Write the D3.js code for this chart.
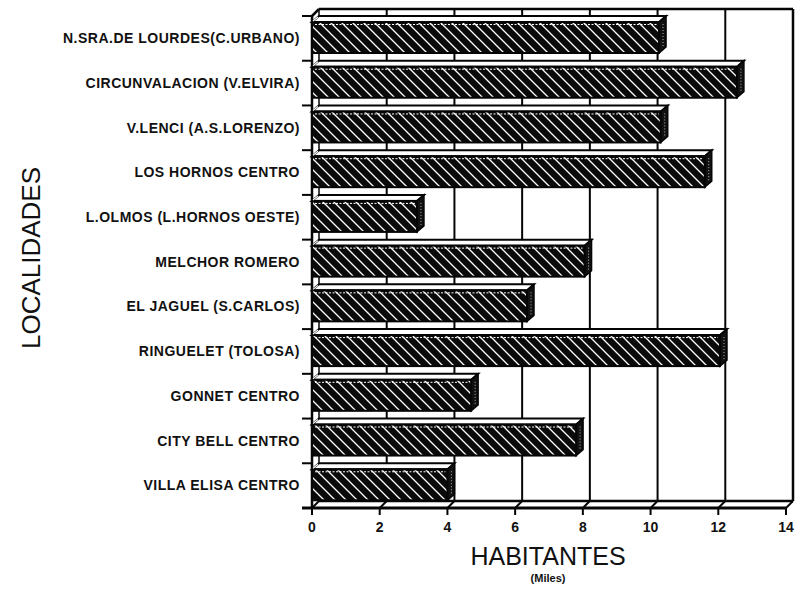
<!DOCTYPE html>
<html><head><meta charset="utf-8">
<script src="https://cdn.jsdelivr.net/npm/d3@7"></script>
<style>
html,body{margin:0;padding:0;background:#fff;}
svg{display:block;font-family:"Liberation Sans",Arial,sans-serif;}
</style></head>
<body>
<svg id="chart" width="795" height="589"></svg>
<script>
const categories = ["N.SRA.DE LOURDES(C.URBANO)","CIRCUNVALACION (V.ELVIRA)","V.LENCI (A.S.LORENZO)","LOS HORNOS CENTRO","L.OLMOS (L.HORNOS OESTE)","MELCHOR ROMERO","EL JAGUEL (S.CARLOS)","RINGUELET (TOLOSA)","GONNET CENTRO","CITY BELL CENTRO","VILLA ELISA CENTRO"];
const values = [10.25,12.55,10.3,11.6,3.1,8.05,6.35,12.05,4.7,7.8,4.0];
const xTicks = [0,2,4,6,8,10,12,14];
const xTitle = "HABITANTES";
const xSubtitle = "(Miles)";
const yTitle = "LOCALIDADES";

(function(){
const svg = d3.select("#chart");
const x = d3.scaleLinear().domain([0,14]).range([312,786]);
const y = d3.scaleBand().domain(categories).range([16,508]);
const wdx = 7, wdy = 7;   // wall depth
const bdx = 7, bdy = 6;   // bar depth
const pTop = 16, pBottom = 508;

const defs = svg.append("defs");
const pat = defs.append("pattern").attr("id","hatch").attr("patternUnits","userSpaceOnUse")
  .attr("width",11).attr("height",11);
pat.append("rect").attr("width",11).attr("height",11).attr("fill","#0a0a0a");
pat.append("path").attr("d","M-1,-1 L12,12 M-6,5 L6,17 M5,-6 L17,6")
  .attr("stroke","#fff").attr("stroke-width",1.3);

const ink = "#050505";
const g = svg.append("g");
xTicks.slice(1).forEach(v=>{
  g.append("line").attr("x1",x(v)+wdx).attr("x2",x(v)+wdx).attr("y1",pTop-wdy).attr("y2",pBottom-wdy)
   .attr("stroke",ink).attr("stroke-width",v===14?2.5:2);
});
g.append("line").attr("x1",x(0)+wdx).attr("x2",x(14)+wdx).attr("y1",pTop-wdy).attr("y2",pTop-wdy)
 .attr("stroke",ink).attr("stroke-width",2.5);
g.append("line").attr("x1",x(0)).attr("x2",x(0)+wdx).attr("y1",pTop).attr("y2",pTop-wdy)
 .attr("stroke",ink).attr("stroke-width",2.5);
g.append("line").attr("x1",x(0)+wdx).attr("x2",x(0)+wdx).attr("y1",pTop-wdy).attr("y2",pBottom-wdy)
 .attr("stroke",ink).attr("stroke-width",1.5);

g.append("line").attr("x1",x(0)+wdx).attr("x2",x(14)+wdx).attr("y1",pBottom-wdy).attr("y2",pBottom-wdy)
 .attr("stroke",ink).attr("stroke-width",2.5);
g.append("line").attr("x1",x(0)-10).attr("x2",x(14)).attr("y1",pBottom).attr("y2",pBottom)
 .attr("stroke",ink).attr("stroke-width",3);
xTicks.forEach(v=>{
  g.append("line").attr("x1",x(v)).attr("x2",x(v)+wdx).attr("y1",pBottom).attr("y2",pBottom-wdy)
   .attr("stroke",ink).attr("stroke-width",2);
  g.append("line").attr("x1",x(v)).attr("x2",x(v)).attr("y1",pBottom).attr("y2",pBottom+7)
   .attr("stroke",ink).attr("stroke-width",2);
});

g.append("line").attr("x1",x(0)).attr("x2",x(0)).attr("y1",pTop).attr("y2",pBottom)
 .attr("stroke",ink).attr("stroke-width",2.5);
categories.forEach(c=>{
  g.append("line").attr("x1",x(0)-10).attr("x2",x(0)).attr("y1",y(c)).attr("y2",y(c))
   .attr("stroke",ink).attr("stroke-width",2);
});

const bars = svg.append("g").selectAll("g.bar").data(categories.map((c,i)=>({c,v:values[i]})))
  .join("g").attr("class","bar");
bars.each(function(d){
  const s = d3.select(this);
  const x0 = x(0), x1 = x(d.v);
  const yt = y(d.c) + bdy, yb = y(d.c) + 37;
  s.append("path").attr("d",`M${x0},${yt} L${x0+bdx},${yt-bdy} L${x1+bdx},${yt-bdy} L${x1},${yt} Z`)
   .attr("fill","#fff").attr("stroke",ink).attr("stroke-width",2);
  s.append("path").attr("d",`M${x1},${yt} L${x1+bdx},${yt-bdy} L${x1+bdx},${yb-bdy} L${x1},${yb} Z`)
   .attr("fill","#111").attr("stroke",ink).attr("stroke-width",1.5);
  s.append("line").attr("x1",x1+bdx/2+0.5).attr("x2",x1+bdx/2+0.5).attr("y1",yt+2).attr("y2",yb-6)
   .attr("stroke","#ddd").attr("stroke-width",0.8).attr("stroke-dasharray","1,2");
  s.append("rect").attr("x",x0).attr("y",yt).attr("width",x1-x0).attr("height",yb-yt)
   .attr("fill","url(#hatch)").attr("stroke",ink).attr("stroke-width",2);
  s.append("line").attr("x1",x0+3).attr("x2",x1-2).attr("y1",yt+2.5).attr("y2",yt+2.5)
   .attr("stroke","#fff").attr("stroke-width",1).attr("stroke-dasharray","2,1.5");
  s.append("line").attr("x1",x0+1).attr("x2",x0+bdx-1).attr("y1",yt-1).attr("y2",yt-bdy+1)
   .attr("stroke","#fff").attr("stroke-width",1.2);
});

svg.append("g").selectAll("text").data(categories).join("text")
  .attr("x",300).attr("y",c=>y(c)+y.bandwidth()/2+1)
  .attr("text-anchor","end").attr("dominant-baseline","middle")
  .attr("font-size",14).attr("font-weight","bold").attr("letter-spacing",0.5)
  .attr("fill","#111").text(c=>c);

svg.append("g").selectAll("text").data(xTicks).join("text")
  .attr("x",v=>x(v)).attr("y",532).attr("text-anchor","middle")
  .attr("font-size",14).attr("font-weight","bold").attr("fill","#111").text(v=>v);

svg.append("text").attr("x",548).attr("y",565).attr("text-anchor","middle")
  .attr("font-size",25).attr("fill","#111").text(xTitle);
svg.append("text").attr("x",548).attr("y",582).attr("text-anchor","middle")
  .attr("font-size",11).attr("font-weight","bold").attr("fill","#111").text(xSubtitle);
svg.append("text").attr("transform","translate(40,258) rotate(-90)").attr("text-anchor","middle")
  .attr("font-size",26).attr("fill","#111").text(yTitle);
})();
</script>
</body></html>
